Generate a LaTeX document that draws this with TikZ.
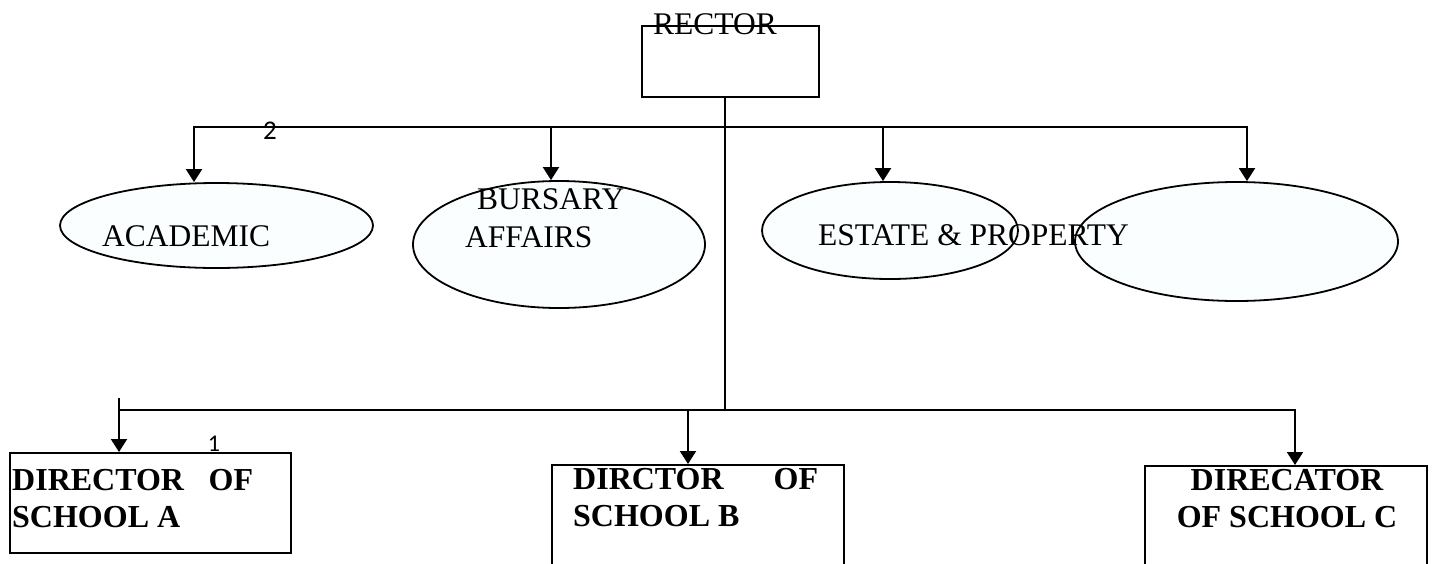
\documentclass[tikz,border=0pt]{standalone}
\usepackage{fontspec}
\setmainfont{Liberation Serif}
\newfontfamily\numfont{Carlito}
\usetikzlibrary{shapes.geometric,arrows.meta}

\tikzset{
  wire/.style={line width=2pt},
  down/.style={wire,-{Triangle[width=16pt,length=13pt]}},
  office/.style={draw,line width=2pt,fill=white,rectangle,inner sep=0pt},
  unit/.style={draw,line width=1.8pt,ellipse,inner sep=0pt,
    fill={rgb,255:red,251;green,254;blue,254}},
  plain/.style={inner sep=0pt,font=\fontsize{31.5}{37}\selectfont},
  heavy/.style={inner sep=0pt,font=\fontsize{32}{37}\selectfont\bfseries},
  tag/.style={inner sep=0pt}
}

\begin{document}
\begin{tikzpicture}[x=1pt,y=-1pt]
\useasboundingbox (0,0) rectangle (1432,563);
\begin{scope}
\clip (0,0) rectangle (1432,563);

% rector
\node[office,minimum width=177pt,minimum height=71pt] (rector) at (730.5,61.5) {};
\node[plain,anchor=base west] (rectortxt) at (653,34) {RECTOR};

% departments
\node[unit,minimum width=313pt,minimum height=85pt] (acad) at (216.5,225.5) {};
\node[unit,minimum width=292pt,minimum height=127pt] (burs) at (559,244.5) {};
\node[unit,minimum width=256pt,minimum height=97pt] (estate) at (890,230.5) {};
\node[unit,minimum width=323pt,minimum height=119pt] (fourth) at (1236.5,241.5) {};

\node[plain,anchor=base west] (acadtxt) at (102,246) {ACADEMIC};
\node[plain,anchor=base west] (burstxt1) at (477,209) {BURSARY};
\node[plain,anchor=base west] (burstxt2) at (465,247) {AFFAIRS};
\node[plain,anchor=base west] (estatetxt) at (818,245) {ESTATE \& PROPERTY};

% schools
\node[office,minimum width=281pt,minimum height=100pt] (schoolA) at (150.5,503) {};
\node[office,minimum width=292pt,minimum height=110pt] (schoolB) at (698,520) {};
\node[office,minimum width=282pt,minimum height=109pt] (schoolC) at (1286,520.5) {};

\node[heavy,anchor=base west] (atxt1) at (12,490) {\makebox[241pt][l]{DIRECTOR\hfill OF}};
\node[heavy,anchor=base west] (atxt2) at (12,527) {SCHOOL A};
\node[heavy,anchor=base west] (btxt1) at (573,489) {\makebox[245pt][l]{DIRCTOR\hfill OF}};
\node[heavy,anchor=base west] (btxt2) at (573,526) {SCHOOL B};
\node[heavy,anchor=base] (ctxt1) at (1287,490) {DIRECATOR};
\node[heavy,anchor=base] (ctxt2) at (1287,527) {OF SCHOOL C};

% bus coordinates
\coordinate (trunk) at (725,97);
\coordinate (topbus) at (725,127);
\coordinate (lowbus) at (725,410);
\coordinate (t1) at (194,127);
\coordinate (t2) at (551,127);
\coordinate (t3) at (883,127);
\coordinate (t4) at (1247,127);
\coordinate (s1) at (119,398);
\coordinate (s2) at (688,410);
\coordinate (s3) at (1295,410);

% connectors
\draw[wire] (trunk) -- (lowbus);
\draw[wire,line cap=rect] (t1) -- (t4);
\draw[wire,line cap=rect] (s1 |- lowbus) -- (s3);
\draw[down] (t1) -- (t1 |- acad.north);
\draw[down] (t2) -- (t2 |- burs.north);
\draw[down] (t3) -- (t3 |- estate.north);
\draw[down] (t4) -- (t4 |- fourth.north);
\draw[down] (s1) -- (s1 |- schoolA.north);
\draw[down] (s2) -- (s2 |- schoolB.north);
\draw[down] (s3) -- (s3 |- schoolC.north);

% numbers
\node[tag,font=\numfont\fontsize{27}{30}\selectfont] (n2) at (270,131) {2};
\node[tag,font=\numfont\fontsize{24}{27}\selectfont] (n1) at (214,444) {1};
\end{scope}
\end{tikzpicture}
\end{document}
